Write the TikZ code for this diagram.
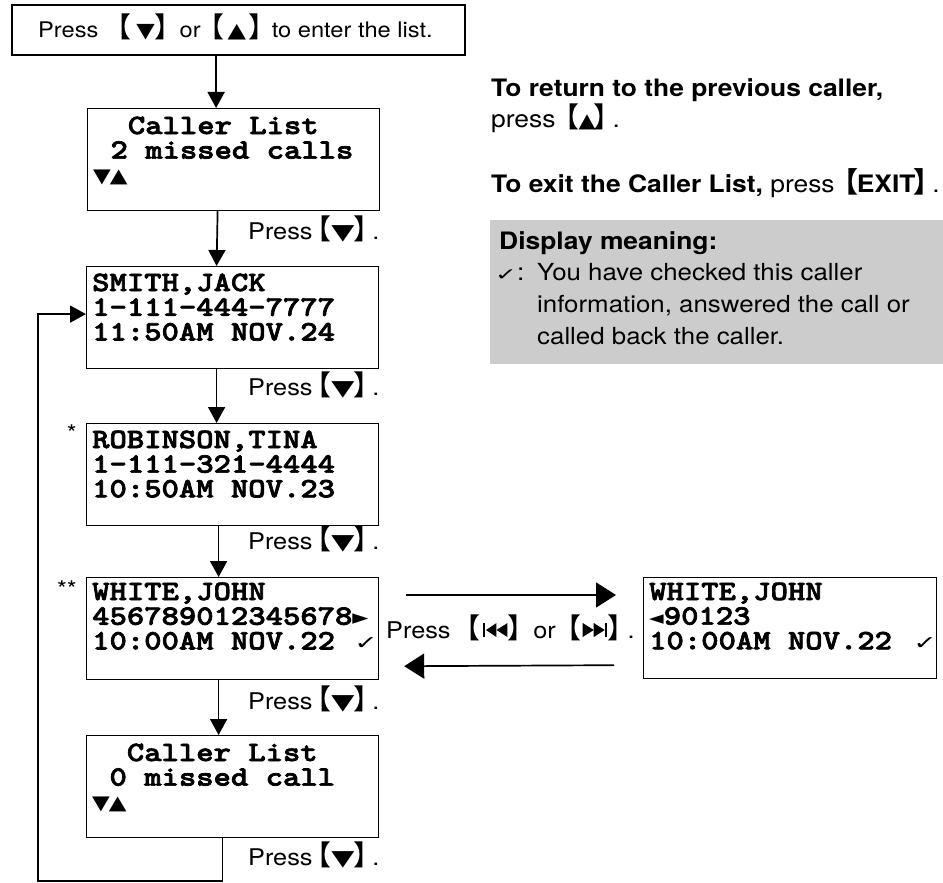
\documentclass[tikz,border=0pt]{standalone}
\usepackage{fontspec}
\usepackage{graphicx}
\setmainfont{TeX Gyre Heros}[FakeStretch=1.1]
\newfontfamily\lcdf{lmmonolt10-bold.otf}[FakeBold=2.5,FakeStretch=1.18]
\newfontfamily\dv{DejaVu Sans}
\newfontfamily\cjk{Noto Sans CJK SC}
\usetikzlibrary{arrows.meta,calc}

% brackets and symbols as text glyphs
\newcommand\LB{{\cjk\fontsize{28}{28}\selectfont\kern-0.42em 【\kern-0.12em}}
\newcommand\RB{{\cjk\fontsize{28}{28}\selectfont\kern-0.12em 】\kern-0.42em}}
\newcommand\symdn[2]{\scalebox{1}[#2]{\dv\fontsize{#1}{#1}\selectfont ▼}}
\newcommand\symup[2]{\scalebox{1}[#2]{\dv\fontsize{#1}{#1}\selectfont ▲}}
\newcommand\prevk{\tikz[baseline=0pt,x=1pt,y=1pt]{\fill (0,1) rectangle (2,15); \fill (2.5,8) -- (13,15) -- (13,1) -- cycle; \fill (13,8) -- (24,15) -- (24,1) -- cycle;}}
\newcommand\nextk{\tikz[baseline=0pt,x=1pt,y=1pt]{\fill (0,1) -- (11,8) -- (0,15) -- cycle; \fill (11,1) -- (22,8) -- (11,15) -- cycle; \fill (22,1) rectangle (24,15);}}
\newcommand\pc{\phantom{0}}
\newcommand\lcdtri{\scalebox{1}[0.85]{\dv\fontsize{23}{23}\selectfont ▼\kern-1pt▲}}
\newcommand\lcdchk{\scalebox{1.4}[0.95]{\dv\fontsize{20}{20}\selectfont ✓}}
\newcommand\lcdr{{\dv\fontsize{21}{21}\selectfont ►}}
\newcommand\lcdl{{\dv\fontsize{19}{19}\selectfont ◄}}
\newcommand\dmchk{\scalebox{1.45}[0.95]{\dv\fontsize{18}{18}\selectfont ✓}}
\newcommand\lcd[1]{{\fontsize{28}{24}\selectfont\lcdf\begin{tabular}[t]{@{}l@{}}#1\end{tabular}}}
\newcommand\pressdn{Press\kern3pt\LB\kern3pt\symdn{30}{0.72}\kern2pt\RB\kern3pt.}

\tikzset{
  x=1pt, y=-1pt,
  lcdbox/.style={draw, line width=1.2pt, anchor=north west, minimum width=292pt, minimum height=102pt, inner sep=0pt},
  lcdtext/.style={anchor=base west, inner sep=0pt},
  arr/.style={line width=1.7pt, -{Triangle[length=16pt,width=17pt]}},
  harr/.style={line width=1.7pt, -{Triangle[length=20pt,width=25pt]}},
  press/.style={anchor=base west, inner sep=0pt, font=\fontsize{23}{28}\selectfont},
  rtext/.style={anchor=base west, inner sep=0pt, font=\fontsize{24}{28}\selectfont},
}

\begin{document}
\begin{tikzpicture}
\useasboundingbox (0,0) rectangle (943,883);

% top instruction
\node[draw, line width=1.2pt, minimum width=453pt, minimum height=50pt, inner sep=0pt] (top) at (238.5,30) {};
\node[anchor=base west, inner sep=0pt, font=\fontsize{21.5}{28}\selectfont] (topt) at (38,38)
  {Press\kern17pt\LB\kern8pt\symdn{24}{0.85}\kern3pt\RB\kern9pt or\kern8pt\LB\kern6pt\symup{24}{0.85}\kern6pt\RB\kern7pt to enter the list.};

% LCD boxes
\node[lcdbox] (cl1) at (87,108) {};
\node[lcdtext] (cl1t) at ([xshift=6pt,yshift=-26pt]cl1.north west)
  {\lcd{\pc\pc Caller List\\\pc 2 missed calls\\\lcdtri}};

\node[lcdbox] (smith) at (86,266) {};
\node[lcdtext] (smitht) at ([xshift=6pt,yshift=-25pt]smith.north west)
  {\lcd{SMITH,JACK\\1-111-444-7777\\11:50AM NOV.24}};

\node[lcdbox] (rob) at (86,423) {};
\node[lcdtext] (robt) at ([xshift=6pt,yshift=-25pt]rob.north west)
  {\lcd{ROBINSON,TINA\\1-111-321-4444\\10:50AM NOV.23}};

\node[lcdbox] (white) at (86,577) {};
\node[lcdtext] (whitet) at ([xshift=6pt,yshift=-23pt]white.north west)
  {\lcd{WHITE,JOHN\\456789012345678\lcdr\\10:00AM NOV.22\pc\kern2pt\lcdchk}};

\node[lcdbox] (cl0) at (86,735) {};
\node[lcdtext] (cl0t) at ([xshift=6pt,yshift=-26pt]cl0.north west)
  {\lcd{\pc\pc Caller List\\\pc 0 missed call\\\lcdtri}};

\node[lcdbox, minimum width=293pt, minimum height=101pt] (wr) at (643,577) {};
\node[lcdtext] (wrt) at ([xshift=6pt,yshift=-23pt]wr.north west)
  {\lcd{WHITE,JOHN\\\lcdl 90123\\10:00AM NOV.22\pc\kern4pt\lcdchk}};

% asterisks
\node[anchor=base east, inner sep=0pt, font=\fontsize{23}{28}\selectfont] (ast1) at (77,441) {*};
\node[anchor=base east, inner sep=0pt, font=\fontsize{23}{28}\selectfont] (ast2) at (77,597) {**};

% vertical arrows
\draw[arr] ([xshift=-17.5pt]cl1.north |- top.south) -- ([xshift=-17.5pt]cl1.north);
\draw[arr] ([xshift=-16pt]cl1.south) -- ([xshift=-16pt]smith.north);
\draw[arr] ([xshift=-16pt]smith.south) -- ([xshift=-16pt]rob.north);
\draw[arr] ([xshift=-14pt]rob.south) -- ([xshift=-14pt]white.north);
\draw[arr] ([xshift=-14pt]white.south) -- ([xshift=-14pt]cl0.north);

% press labels
\node[press] (p1) at (248,239) {\pressdn};
\node[press] (p2) at (248,395) {\pressdn};
\node[press] (p3) at (248,549) {\pressdn};
\node[press] (p4) at (248,709) {\pressdn};
\node[press] (p5) at (248,865) {\pressdn};

% loop back
\coordinate (lc) at (38,881);
\draw[arr] ([xshift=-10pt]cl0.south) |- (lc) |- ([yshift=3.5pt]smith.west);

% horizontal arrows
\draw[harr] ([xshift=27pt,yshift=-18pt]white.north east) -- ([xshift=-27pt,yshift=-18pt]wr.north west);
\draw[harr] ([xshift=-29pt,yshift=14pt]wr.south west) -- ([xshift=25pt,yshift=14pt]white.south east);
\node[anchor=base west, inner sep=0pt, font=\fontsize{23}{28}\selectfont] (pm) at (386,638)
  {Press\kern14pt\LB\kern6pt\prevk\kern3pt\RB\kern10pt or\kern9pt\LB\kern5pt\nextk\kern4pt\RB\kern4pt.};

% right texts
\node[rtext] (r1) at (491,96) {\textbf{To return to the previous caller,}};
\node[rtext] (r2) at (491,128) {press \LB\kern3pt\symup{22}{0.9}\kern1pt\RB\kern3pt.};
\node[rtext] (r3) at (491,192) {\textbf{To exit the Caller List,} press \textbf{\LB\kern2pt EXIT\kern1pt\RB}\kern3pt.};

% display meaning box
\node[fill=black!20, anchor=north west, minimum width=453pt, minimum height=144pt, inner sep=0pt] (dm) at (490,220) {};
\node[rtext] (dmh) at (499,249) {\textbf{Display meaning:}};
\node[rtext] (dmc) at (495,280) {\dmchk:};
\node[anchor=base west, inner sep=0pt, font=\fontsize{23.5}{32}\selectfont] (dmt) at (537,280)
  {\begin{tabular}[t]{@{}l@{}}You have checked this caller\\information, answered the call or\\called back the caller.\end{tabular}};
\end{tikzpicture}
\end{document}
